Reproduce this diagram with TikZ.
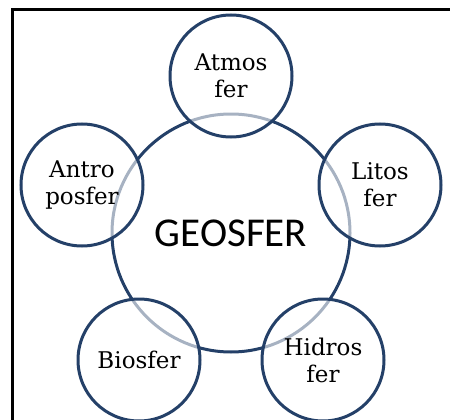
\documentclass[tikz,border=0pt]{standalone}
\usepackage{fontspec}
\setmainfont{DejaVu Serif}
\newfontfamily\geofont{Carlito}
\usetikzlibrary{positioning}
\definecolor{sferblue}{RGB}{36,64,104}

\begin{document}
\begin{tikzpicture}[x=1pt,y=-1pt,
    sfer/.style={circle, draw=sferblue, line width=3pt, fill=white, fill opacity=0.6,
      text opacity=1, minimum size=122pt, inner sep=0pt, align=center,
      font=\fontsize{23}{27}\selectfont},
    geo/.style={circle, draw=sferblue, line width=3pt, minimum size=238pt, inner sep=0pt,
      font=\geofont\fontsize{41}{43}\selectfont}]
        \useasboundingbox (0,0) rectangle (450,420);
        % frame
        \draw[line width=3pt] (12,440) |- (470,10);
        % centre
        \node[geo] (geo) at (231,233) {GEOSFER};
        % outer ring
        \node[sfer] (atmos) at (231,76) {Atmos\\fer};
        \node[sfer] (litos) at (380,185) {Litos\\fer};
        \node[sfer] (hidros) at (323,360) {Hidros\\fer};
        \node[sfer] (bio) at (139,360) {Biosfer};
        \node[sfer] (antro) at (82,185) {Antro\\posfer};
    \end{tikzpicture}
\end{document}
